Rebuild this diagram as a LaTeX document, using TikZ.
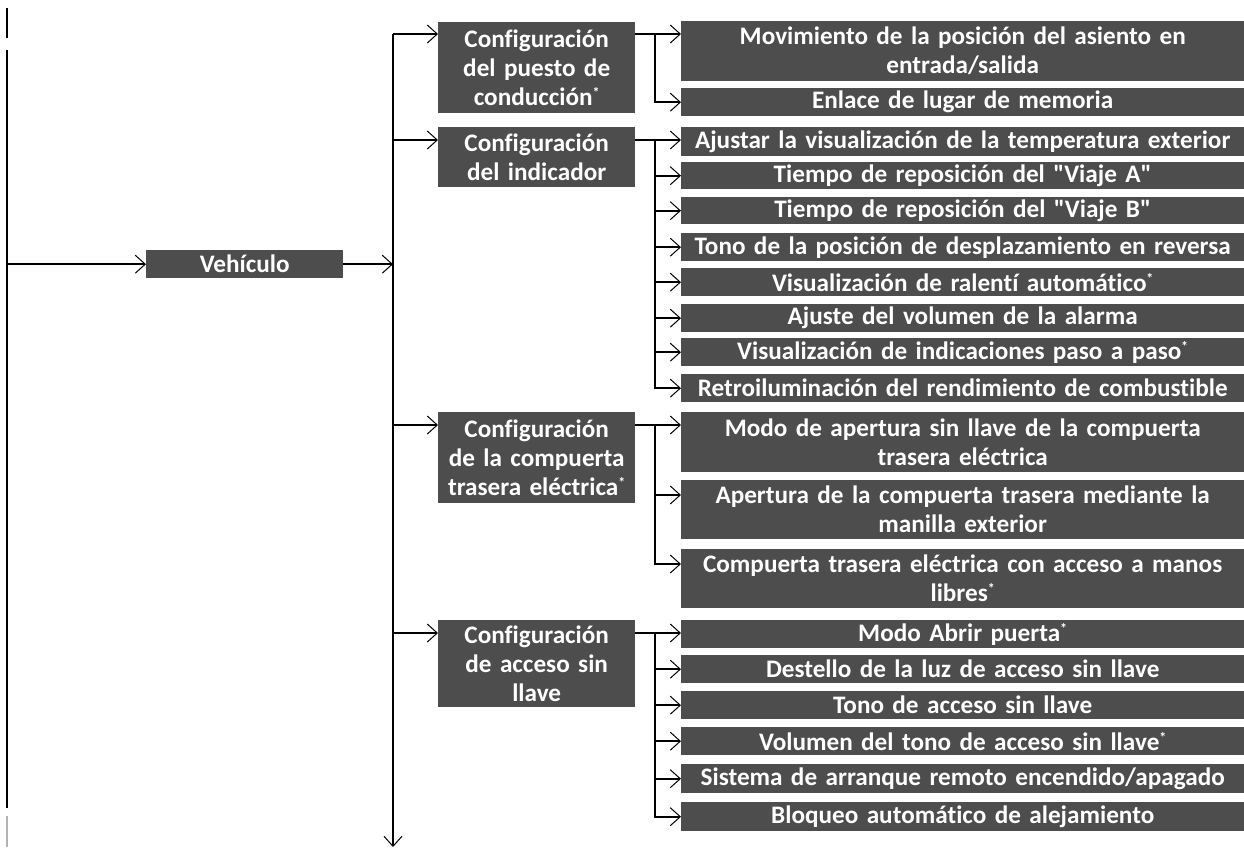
\documentclass[tikz,border=0pt]{standalone}
\usepackage{fontspec}
\usepackage{xcolor}
\usepackage{tikz}
\usetikzlibrary{arrows.meta,positioning,calc}
\newfontfamily\menufont{Carlito}[Ligatures={NoCommon}]
\definecolor{boxgray}{HTML}{4D4D4D}
\newcommand{\optmark}{\raisebox{8pt}{\fontsize{14}{14}\selectfont*}}

\begin{document}
\begin{tikzpicture}[
        x=1pt, y=-1pt,
        font=\menufont\bfseries\fontsize{25.2}{29}\selectfont,
        menu/.style={
            fill=boxgray, text=white, anchor=north west,
            inner xsep=1pt, inner ysep=0pt,
            text width=195pt, align=center
        },
        item/.style={
            fill=boxgray, text=white, anchor=north west,
            inner xsep=1pt, inner ysep=0pt,
            text width=561pt, align=center
        },
        arr/.style={-{Straight Barb[length=10pt,width=18pt,line width=1pt]}, line width=2pt},
        wire/.style={line width=2pt}
    ]
    \useasboundingbox (0,0) rectangle (1244,847);

    % Left margin line (continues from previous page)
    \draw[wire] (7,8) -- (7,38);
    \coordinate (topL) at (7,50);
    \coordinate (botL) at (7,808);
    \draw[wire] (topL) -- (botL);
    \draw[line width=1.5pt, gray!60] (7,816) -- (7,847);

    % Level 1
    \node[menu, minimum height=28pt] (veh) at (146,250) {Veh\'{\i}culo};
    \draw[arr] (veh.west -| topL) -- (veh.west);

    % Main bus
    \coordinate (bus) at (393,34);
    \coordinate (busEnd) at (393,847);
    \draw[arr] (veh.east) -- (veh.east -| bus);
    \draw[arr] (bus) -- (busEnd);

    % Level 2
    \node[menu, minimum height=91pt] (cfgPuesto) at (438,22)
        {Configuración\\del puesto de\\conducción\optmark};
    \node[menu, minimum height=60pt] (cfgInd) at (438,127)
        {Configuración\\del indicador};
    \node[menu, minimum height=91pt] (cfgComp) at (438,412)
        {Configuración\\de la compuerta\\trasera eléctrica\optmark};
    \node[menu, minimum height=87pt] (cfgAcc) at (438,620)
        {Configuración\\de acceso sin\\llave};

    \draw[arr] (bus) -- (bus -| cfgPuesto.west);
    \draw[arr] (bus |- cfgInd.north) ++(0,13) -- ([yshift=-13pt]cfgInd.north west);
    \draw[arr] (bus |- cfgComp.north) ++(0,13) -- ([yshift=-13pt]cfgComp.north west);
    \draw[arr] (bus |- cfgAcc.north) ++(0,13) -- ([yshift=-13pt]cfgAcc.north west);

    % Level 3: puesto de conduccion
    \node[item, minimum height=60pt] (mov) at (681,21)
        {Movimiento de la posición del asiento en\\entrada/salida};
    \node[item, minimum height=28pt] (enlace) at (681,88) {Enlace de lugar de memoria};

    \coordinate (j1) at ([xshift=20pt,yshift=-12pt]cfgPuesto.north east);
    \draw[arr] ([yshift=-12pt]cfgPuesto.north east) -- (j1 -| mov.west);
    \draw[arr] (j1) |- (enlace.west);

    % Level 3: indicador
    \node[item, minimum height=29pt] (ajustar) at (681,127) {Ajustar la visualización de la temperatura exterior};
    \node[item, minimum height=27pt] (viajeA) at (681,162) {Tiempo de reposición del "Viaje A"};
    \node[item, minimum height=27pt] (viajeB) at (681,197) {Tiempo de reposición del "Viaje B"};
    \node[item, minimum height=28pt] (tonoRev) at (681,233) {Tono de la posición de desplazamiento en reversa};
    \node[item, minimum height=28pt] (ralenti) at (681,268) {Visualización de ralentí automático\optmark};
    \node[item, minimum height=28pt] (alarma) at (681,304) {Ajuste del volumen de la alarma};
    \node[item, minimum height=28pt] (pasos) at (681,338) {Visualización de indicaciones paso a paso\optmark};
    \node[item, minimum height=28pt] (retro) at (681,374) {Retroiluminación del rendimiento de combustible};

    \coordinate (j2) at ([xshift=20pt,yshift=-13pt]cfgInd.north east);
    \draw[arr] ([yshift=-13pt]cfgInd.north east) -- (j2 -| ajustar.west);
    \draw[arr] (j2) |- (viajeA.west);
    \draw[arr] (j2) |- (viajeB.west);
    \draw[arr] (j2) |- (tonoRev.west);
    \draw[arr] (j2) |- (ralenti.west);
    \draw[arr] (j2) |- (alarma.west);
    \draw[arr] (j2) |- (pasos.west);
    \draw[arr] (j2) |- (retro.west);

    % Level 3: compuerta trasera
    \node[item, minimum height=60pt] (modoAp) at (681,412)
        {Modo de apertura sin llave de la compuerta\\trasera eléctrica};
    \node[item, minimum height=59pt] (manilla) at (681,480)
        {Apertura de la compuerta trasera mediante la\\manilla exterior};
    \node[item, minimum height=59pt] (manosLib) at (681,549)
        {Compuerta trasera eléctrica con acceso a manos\\libres\optmark};

    \coordinate (j3) at ([xshift=20pt,yshift=-13pt]cfgComp.north east);
    \draw[arr] ([yshift=-13pt]cfgComp.north east) -- (j3 -| modoAp.west);
    \draw[arr] (j3) |- ([yshift=-15pt]manilla.north west);
    \draw[arr] (j3) |- ([yshift=-15pt]manosLib.north west);

    % Level 3: acceso sin llave
    \node[item, minimum height=28pt] (abrir) at (681,620) {Modo Abrir puerta\optmark};
    \node[item, minimum height=28pt] (destello) at (681,655) {Destello de la luz de acceso sin llave};
    \node[item, minimum height=28pt] (tonoAcc) at (681,691) {Tono de acceso sin llave};
    \node[item, minimum height=28pt] (volTono) at (681,727) {Volumen del tono de acceso sin llave\optmark};
    \node[item, minimum height=29pt] (remoto) at (681,764) {Sistema de arranque remoto encendido/apagado};
    \node[item, minimum height=29pt] (bloqueo) at (681,802) {Bloqueo automático de alejamiento};

    \coordinate (j4) at ([xshift=20pt,yshift=-13pt]cfgAcc.north east);
    \draw[arr] ([yshift=-13pt]cfgAcc.north east) -- (j4 -| abrir.west);
    \draw[arr] (j4) |- (destello.west);
    \draw[arr] (j4) |- (tonoAcc.west);
    \draw[arr] (j4) |- (volTono.west);
    \draw[arr] (j4) |- (remoto.west);
    \draw[arr] (j4) |- (bloqueo.west);

\end{tikzpicture}
\end{document}
